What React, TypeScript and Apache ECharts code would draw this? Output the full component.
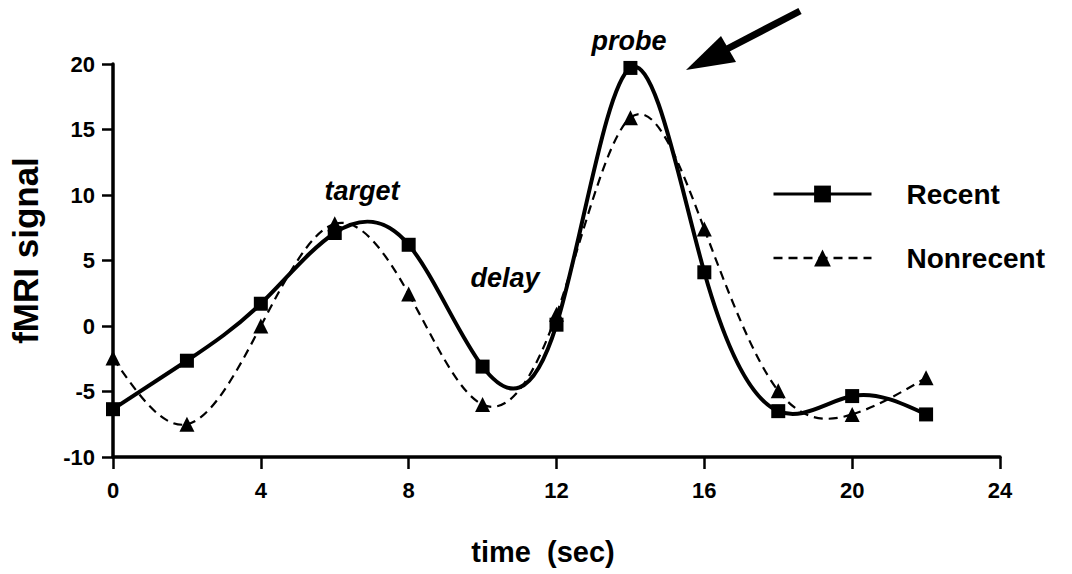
import React, { useEffect, useRef } from "react";
import * as echarts from "echarts";

const timeSec = [0, 2, 4, 6, 8, 10, 12, 14, 16, 18, 20, 22];
const recent = [-6.35, -2.65, 1.7, 7.1, 6.2, -3.1, 0.1, 19.7, 4.1, -6.5, -5.35, -6.75];
const nonrecent = [-2.45, -7.5, 0.0, 7.8, 2.45, -6.0, 0.9, 15.9, 7.4, -4.95, -6.75, -3.95];
const xTicks = [0, 4, 8, 12, 16, 20, 24];
const yTicks = [-10, -5, 0, 5, 10, 15, 20];
const seriesNames = ["Recent", "Nonrecent"];
const annotations = [
  { text: "target", x: 362, y: 191 },
  { text: "delay", x: 505, y: 278 },
  { text: "probe", x: 629, y: 41 },
];

const FONT = "'Liberation Sans', Arial, Helvetica, sans-serif";

// natural cubic spline second derivatives (drawing helper for the curve through the points)
function splineM(xs: number[], ys: number[]) {
  const n = xs.length;
  const M = new Array(n).fill(0);
  if (n < 3) return M;
  const a: number[] = [], b: number[] = [], c: number[] = [], d: number[] = [];
  for (let i = 1; i < n - 1; i++) {
    const h0 = xs[i] - xs[i - 1];
    const h1 = xs[i + 1] - xs[i];
    a.push(h0 / 6);
    b.push((h0 + h1) / 3);
    c.push(h1 / 6);
    d.push((ys[i + 1] - ys[i]) / h1 - (ys[i] - ys[i - 1]) / h0);
  }
  const m = b.length;
  for (let i = 1; i < m; i++) {
    const w = a[i] / b[i - 1];
    b[i] -= w * c[i - 1];
    d[i] -= w * d[i - 1];
  }
  const sol = new Array(m).fill(0);
  sol[m - 1] = d[m - 1] / b[m - 1];
  for (let i = m - 2; i >= 0; i--) sol[i] = (d[i] - c[i] * sol[i + 1]) / b[i];
  for (let i = 0; i < m; i++) M[i + 1] = sol[i];
  return M;
}

function curveSeries(name: string, ys: number[], width: number, dash: number[] | null) {
  const M = splineM(timeSec, ys);
  return {
    name,
    type: "custom",
    coordinateSystem: "cartesian2d",
    data: timeSec.map((t, i) => [t, ys[i]]),
    silent: true,
    z: 1,
    renderItem: (params: any, api: any) => {
      const i = params.dataIndex;
      if (i >= timeSec.length - 1) return null;
      const x0 = timeSec[i], x1 = timeSec[i + 1];
      const y0 = ys[i], y1 = ys[i + 1];
      const h = x1 - x0;
      const s = (y1 - y0) / h;
      const d0 = s - (h * (2 * M[i] + M[i + 1])) / 6;
      const d1 = s + (h * (M[i] + 2 * M[i + 1])) / 6;
      const p0 = api.coord([x0, y0]);
      const p1 = api.coord([x1, y1]);
      const c0 = api.coord([x0 + h / 3, y0 + (d0 * h) / 3]);
      const c1 = api.coord([x1 - h / 3, y1 - (d1 * h) / 3]);
      return {
        type: "bezierCurve",
        shape: { x1: p0[0], y1: p0[1], x2: p1[0], y2: p1[1], cpx1: c0[0], cpy1: c0[1], cpx2: c1[0], cpy2: c1[1] },
        style: { stroke: "#000", fill: "none", lineWidth: width, lineDash: dash || undefined, lineCap: "butt" },
      };
    },
  };
}

export default function App() {
  const ref = useRef<HTMLDivElement>(null);
  useEffect(() => {
    if (!ref.current) return;
    const chart = echarts.init(ref.current, null, { renderer: "svg" });
    const pair = (ys: number[]) => timeSec.map((t, i) => [t, ys[i]]);
    chart.setOption({
      animation: false,
      backgroundColor: "#ffffff",
      textStyle: { fontFamily: FONT, color: "#000" },
      grid: { left: 113, right: 72, top: 64, bottom: 117, containLabel: false },
      xAxis: {
        type: "value",
        min: xTicks[0],
        max: xTicks[xTicks.length - 1],
        interval: xTicks[1] - xTicks[0],
        name: "time  (sec)",
        nameLocation: "middle",
        nameGap: 80,
        nameTextStyle: { fontSize: 29, fontWeight: "bold", color: "#000", fontFamily: FONT, padding: [0, 27, 0, 0], verticalAlign: "top" },
        axisLine: { onZero: false, lineStyle: { color: "#000", width: 3.5 } },
        axisTick: { length: 12, lineStyle: { color: "#000", width: 2.5 } },
        axisLabel: { margin: 22, fontSize: 22, fontWeight: "bold", color: "#000", fontFamily: FONT },
        splitLine: { show: false },
      },
      yAxis: {
        type: "value",
        min: yTicks[0],
        max: yTicks[yTicks.length - 1],
        interval: yTicks[1] - yTicks[0],
        name: "fMRI signal",
        nameLocation: "middle",
        nameGap: 70,
        nameRotate: 90,
        nameTextStyle: { fontSize: 35, fontWeight: "bold", color: "#000", fontFamily: FONT, padding: [0, 0, 0, 20] },
        axisLine: { lineStyle: { color: "#000", width: 3.5 } },
        axisTick: { length: 11, lineStyle: { color: "#000", width: 2.5 } },
        axisLabel: { margin: 18, fontSize: 22, fontWeight: "bold", color: "#000", fontFamily: FONT },
        splitLine: { show: false },
      },
      legend: {
        orient: "vertical",
        left: 772,
        top: 180,
        padding: 0,
        itemGap: 36,
        itemWidth: 98,
        itemHeight: 21,
        textStyle: { fontSize: 28, fontWeight: "bold", color: "#000", fontFamily: FONT, padding: [0, 0, 0, 30] },
        data: [
          { name: seriesNames[0], lineStyle: { width: 3, opacity: 1, type: "solid" } },
          { name: seriesNames[1], lineStyle: { width: 2.5, opacity: 1, type: [9, 6] } },
        ],
      },
      series: [
        curveSeries("recent-curve", recent, 4, null),
        curveSeries("nonrecent-curve", nonrecent, 2.2, [9, 6]),
        {
          name: seriesNames[0],
          type: "line",
          data: pair(recent),
          symbol: "rect",
          symbolSize: 14,
          lineStyle: { color: "#000", width: 3, opacity: 0 },
          itemStyle: { color: "#000" },
          z: 3,
        },
        {
          name: seriesNames[1],
          type: "line",
          data: pair(nonrecent),
          symbol: "triangle",
          symbolSize: 15,
          lineStyle: { color: "#000", width: 2.5, type: [9, 6], opacity: 0 },
          itemStyle: { color: "#000" },
          z: 2,
        },
      ],
      graphic: [
        ...annotations.map((a) => ({
          type: "text",
          x: a.x,
          y: a.y,
          style: {
            text: a.text,
            fontSize: 27,
            fontStyle: "italic",
            fontWeight: "bold",
            fontFamily: FONT,
            fill: "#000",
            textAlign: "center",
            textVerticalAlign: "middle",
          },
        })),
        {
          type: "line",
          shape: { x1: 800, y1: 11, x2: 727, y2: 49 },
          style: { stroke: "#000", lineWidth: 7 },
        },
        {
          type: "polygon",
          shape: { points: [[686, 70], [721, 36], [736, 62]] },
          style: { fill: "#000" },
        },
      ],
    });
    return () => chart.dispose();
  }, []);
  return (
    <div
      ref={ref}
      style={{ position: "fixed", left: 0, top: 0, width: 1072, height: 574, background: "#fff" }}
    />
  );
}
